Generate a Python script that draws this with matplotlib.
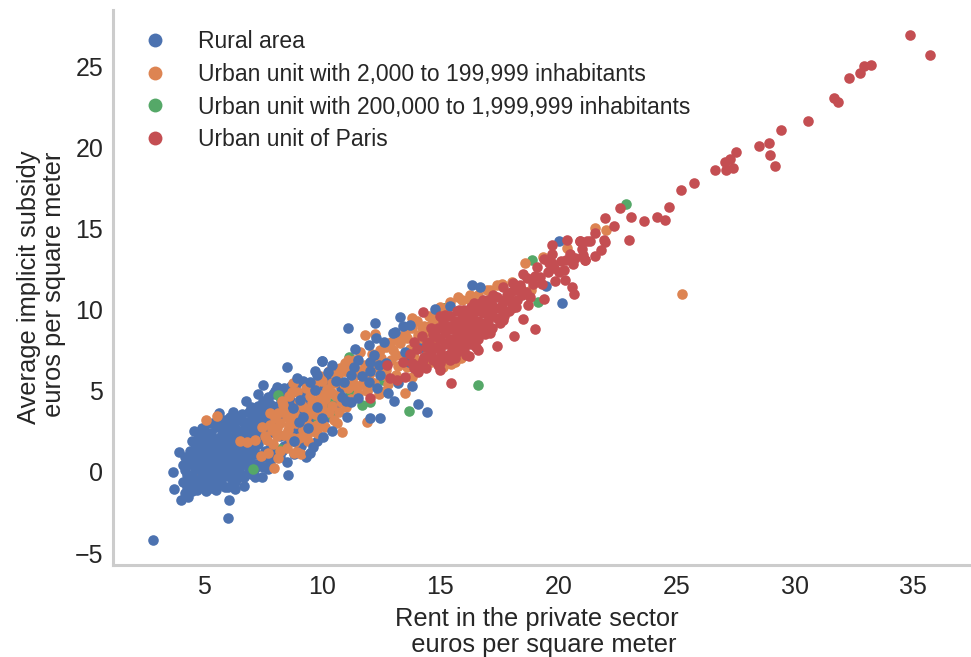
import matplotlib
matplotlib.use("Agg")
import matplotlib.pyplot as plt
from matplotlib.lines import Line2D

plt.rcParams['font.family'] = ['Liberation Sans', 'DejaVu Sans']

labels = ["Rural area",
          "Urban unit with 2,000 to 199,999 inhabitants",
          "Urban unit with 200,000 to 1,999,999 inhabitants",
          "Urban unit of Paris"]
colors = ["#4C72B0", "#DD8452", "#55A868", "#C44E52"]
x_ticks = [5, 10, 15, 20, 25, 30, 35]
y_ticks = [-5, 0, 5, 10, 15, 20, 25]

# orange points that sit under the blue cloud
urban_low_x = [5.25, 5.25, 4.8, 5.51, 7.16, 6.38, 7.58, 6.0, 6.7, 5.9]
urban_low_y = [2.02, 0.91, -0.19, 0.12, 3.41, -0.38, 0.86, 2.9, 2.6, 1.3]

rural_x = [3.67, 3.74, 4.01, 4.34, 3.94, 4.59, 5.65, 6.03, 6.06, 2.83,
           6.31, 6.71, 8.57, 7.44, 7.16, 6.21, 6.78, 7.3, 7.51, 8.08,
           4.1, 4.1, 4.2, 4.3, 4.3, 4.4, 4.4, 4.5, 4.5, 4.6,
           4.6, 4.7, 4.7, 4.8, 4.8, 4.9, 4.9, 5.0, 5.0, 5.0,
           5.1, 5.1, 5.2, 5.2, 5.3, 5.3, 5.3, 5.4, 5.4, 5.5,
           5.5, 5.5, 5.6, 5.6, 5.7, 5.7, 5.8, 5.8, 5.9, 5.9,
           6.0, 6.0, 6.1, 6.1, 6.2, 6.2, 6.3, 6.3, 6.4, 6.4,
           6.5, 6.5, 6.6, 6.6, 6.7, 6.8, 6.8, 6.9, 6.9, 7.0,
           7.0, 7.1, 7.2, 7.2, 7.3, 7.4, 7.5, 7.5, 7.6, 7.7,
           7.7, 7.8, 7.9, 8.0, 8.0, 8.1, 8.2, 8.3, 8.4, 8.51,
           8.5, 8.6, 8.7, 8.8, 8.9, 9.0, 9.1, 9.2, 9.3, 9.5,
           9.7, 10.01, 9.9, 10.2]
rural_y = [0.02, -1.07, -1.73, -1.52, 1.25, 2.55, 3.62, -2.86, -1.73, -4.2,
           -1.07, -0.86, -0.19, -0.29, -0.29, 3.72, 4.4, 4.8, 5.37, 5.27,
           -0.6, 0.4, 0.9, -0.9, -0.2, 0.5, 1.3, -1.2, 1.9, -0.5,
           0.2, 0.9, -1.1, 1.5, 2.2, -0.8, -0.1, 0.5, 1.1, 2.6,
           -1.2, 1.8, -0.5, 0.2, 0.9, -1.0, 2.4, 1.5, 3.0, -0.2,
           0.5, -1.1, 1.1, 2.0, -0.7, 2.7, 0.1, 0.8, 1.5, 3.2,
           -0.9, 2.2, -0.3, 0.5, 1.1, 2.8, -0.6, 1.8, 0.1, 3.4,
           0.8, 2.4, -0.2, 1.4, 3.0, 0.4, 2.0, 1.0, 3.7, -0.1,
           2.6, 1.5, 0.3, 3.3, 4.1, 2.1, 0.9, 3.6, 2.9, 0.2,
           4.6, 1.5, 3.3, 2.4, 5.0, 4.1, 0.9, 4.7, 1.6, 6.48,
           0.6, 3.7, 5.3, 1.1, 2.5, 4.9, 1.6, 5.6, 0.9, 5.1,
           6.2, 6.85, 5.3, 5.7]

rural_more_x = [4.2, 4.2, 4.3, 4.4, 4.5, 4.5, 4.6, 4.6, 4.7, 4.7,
                4.8, 4.8, 4.9, 4.9, 4.9, 5.0, 5.0, 5.1, 5.1, 5.1,
                5.1, 5.2, 5.2, 5.2, 5.2, 5.3, 5.3, 5.3, 5.4, 5.4,
                5.4, 5.5, 5.5, 5.5, 5.6, 5.6, 5.6, 5.7, 5.7, 5.7,
                5.8, 5.8, 5.8, 5.8, 5.9, 5.9, 5.9, 6.0, 6.0, 6.0,
                6.0, 6.1, 6.1, 6.1, 6.2, 6.2, 6.2, 6.3, 6.3, 6.3,
                6.4, 6.4, 6.4, 6.5, 6.5, 6.5, 6.6, 6.6, 6.6, 6.7,
                6.7, 6.7, 6.7, 6.8, 6.8, 6.9, 6.9, 6.9, 7.0, 7.0,
                7.0, 7.0, 7.1, 7.1, 7.1, 7.2, 7.2, 7.3, 7.3, 7.3,
                7.4, 7.4, 7.4, 7.5, 7.5, 7.6, 7.6, 7.7, 7.7, 7.8,
                7.8, 7.9, 7.9, 8.0, 8.0, 8.1, 8.2, 8.2, 8.3, 8.3,
                8.4, 8.5, 8.6, 8.7, 8.8, 8.9, 9.0, 9.0, 9.2, 9.3,
                9.4, 9.6, 9.8, 10.0, 10.2, 10.4, 10.6, 10.8, 11.0, 11.2]
rural_more_y = [-1.3, 0.1, 0.6, -0.6, -0.2, 0.9, 1.5, -1.0, 0.3, 2.0,
                -0.5, 0.6, 1.1, 1.9, 2.7, -1.0, -0.3, 0.2, 0.8, 1.4,
                2.3, -0.9, 1.1, 1.8, 3.0, -0.2, 0.4, 1.4, -0.7, 0.7,
                2.1, 1.0, 1.8, 2.8, -0.6, 0.2, 3.3, 0.5, 1.4, 2.2,
                -0.3, 1.2, 1.9, 2.9, -0.9, 0.4, 2.4, 0.1, 0.9, 1.7,
                2.8, 1.3, 2.0, 3.4, -0.8, 0.2, 1.7, 0.7, 2.3, 3.1,
                -0.4, 1.3, 2.6, 0.2, 1.6, 3.2, 0.7, 2.1, 3.6, -0.3,
                1.1, 1.8, 2.5, 0.9, 3.1, 0.1, 1.6, 2.4, 0.6, 1.2,
                3.2, 4.0, 0.1, 2.1, 2.9, 1.1, 3.8, 0.5, 1.7, 2.6,
                0.9, 3.1, 3.9, 0.3, 4.4, 1.3, 3.4, 2.4, 3.9, 0.6,
                4.2, 0.9, 4.8, 1.4, 3.9, 3.1, 2.2, 4.6, 1.3, 3.4,
                5.2, 4.2, 1.9, 4.4, 3.4, 5.4, 1.4, 3.9, 4.4, 2.4,
                4.9, 3.4, 1.9, 4.9, 3.4, 6.2, 4.2, 5.2, 6.4, 4.9]

mid_x = [22.85, 18.89, 19.11, 15.1, 16.58, 16.89, 13.67, 11.15, 10.4, 9.84,
         11.18, 11.67, 12.02, 10.33, 15.13, 12.59, 9.98, 8.14, 7.09, 8.22]
mid_y = [16.54, 13.09, 10.51, 10.1, 5.37, 9.01, 3.77, 7.12, 3.52, 3.21,
         5.02, 4.14, 4.34, 4.24, 10.1, 5.68, 4.03, 4.75, 0.17, 1.42]

urban_x = [5.08, 5.56, 7.97, 6.52, 6.81, 7.16, 7.44, 7.65, 7.86, 8.07,
           8.36, 8.14, 8.5, 8.71, 8.57, 8.78, 8.92, 8.14, 7.79, 8.71,
           8.92, 11.8, 12.22, 13.81, 11.91, 10.83, 13.5, 12.66, 13.22, 13.79,
           11.6, 12.45, 12.38, 12.93, 13.29, 13.58, 14.07, 14.42, 14.7, 14.2,
           10.97, 10.76, 10.68, 10.4, 10.4, 11.39, 11.46, 11.88, 9.91, 9.56,
           9.49, 9.2, 9.35, 8.92, 8.78, 8.78, 8.85, 10.61, 10.05, 9.77,
           25.22, 21.55, 22.0, 18.58, 20.37, 19.33, 17.41, 15.76, 16.25, 16.96,
           18.01, 18.82, 15.45, 15.87, 14.5, 14.9, 14.6, 15.0, 15.3, 9.3,
           9.6, 10.0, 10.2, 9.1, 9.9, 10.9, 11.1, 12.0, 12.7, 13.1]
urban_y = [3.21, 3.46, 0.27, 1.91, 1.87, 1.98, 2.8, 1.98, 2.59, 2.7,
           4.14, 3.62, 3.41, 3.0, 2.59, 2.08, 1.25, 0.85, 3.62, 4.96,
           4.96, 8.46, 8.5, 9.49, 3.1, 2.45, 4.86, 5.02, 6.56, 5.88,
           7.43, 7.53, 6.91, 8.04, 7.94, 8.25, 8.46, 8.66, 9.38, 8.97,
           6.71, 6.4, 5.99, 5.48, 4.86, 5.99, 5.27, 5.06, 4.75, 4.24,
           3.62, 2.9, 2.28, 3.1, 5.48, 3.2, 1.87, 3.0, 2.9, 2.39,
           11.0, 15.04, 14.9, 12.88, 13.83, 13.29, 11.54, 10.78, 10.93, 11.23,
           11.75, 11.23, 6.67, 7.02, 9.0, 9.7, 6.8, 6.9, 10.2, 3.9,
           5.2, 4.2, 5.0, 4.2, 5.9, 6.2, 6.9, 5.6, 6.3, 7.2]

urban_more_x = [7.4, 7.6, 7.7, 7.8, 7.9, 8.0, 8.1, 8.2, 8.2, 8.3,
                8.4, 8.4, 8.5, 8.6, 8.6, 8.7, 8.8, 8.8, 8.9, 9.0,
                9.0, 9.1, 9.1, 9.2, 9.2, 9.3, 9.3, 9.4, 9.4, 9.5,
                9.5, 9.6, 9.7, 9.7, 9.8, 9.8, 9.9, 10.0, 10.0, 10.1,
                10.1, 10.2, 10.3, 10.3, 10.4, 10.5, 10.5, 10.6, 10.6, 10.7,
                10.8, 10.9, 11.0, 11.0, 11.1, 11.2, 11.2, 11.3, 11.4, 11.5,
                11.6, 11.7, 11.8, 11.9, 12.0, 12.1, 12.2, 12.3, 12.4, 12.5,
                12.6, 12.7, 12.8, 12.9, 13.0, 13.1, 13.2, 13.4, 13.5, 13.6,
                13.7, 13.8, 13.9, 14.0, 14.1, 14.2, 14.3, 14.4, 14.5, 14.7,
                14.8, 15.0, 15.1, 15.4, 15.6, 15.9, 16.2, 16.6, 17.1, 17.6]
urban_more_y = [1.0, 2.2, 1.2, 2.9, 1.7, 3.3, 2.2, 1.3, 3.0, 4.4,
                2.3, 3.7, 1.5, 2.9, 4.7, 2.0, 3.7, 1.2, 3.0, 2.1,
                4.3, 3.3, 1.1, 2.6, 4.0, 3.3, 5.2, 1.9, 2.9, 3.9,
                4.7, 2.5, 3.6, 5.4, 2.9, 4.4, 3.4, 3.9, 5.6, 2.8,
                4.5, 5.1, 3.7, 6.2, 4.1, 5.5, 3.2, 4.7, 6.0, 3.7,
                4.3, 5.4, 4.0, 6.2, 5.2, 4.5, 6.5, 5.5, 6.9, 4.8,
                6.2, 5.4, 6.6, 5.0, 6.1, 7.3, 5.5, 6.5, 4.8, 7.0,
                6.0, 7.7, 5.4, 6.9, 7.5, 6.0, 8.3, 7.1, 8.6, 6.5,
                7.6, 8.9, 7.1, 9.3, 8.0, 6.6, 9.0, 7.6, 9.6, 8.0,
                9.0, 10.2, 6.5, 10.5, 6.8, 10.6, 10.7, 10.9, 11.2, 11.6]

# blue points drawn on top of the orange ones
rural_top_x = [20.0, 16.35, 16.68, 19.45, 20.13, 14.78, 15.41, 11.09, 12.25, 10.01,
               14.09, 13.65, 13.04, 14.04, 14.43, 12.45, 12.02, 13.3, 13.08, 13.71,
               11.98, 12.28, 11.35, 11.53, 12.02, 10.94, 10.26, 10.4, 9.77, 9.49,
               9.7, 9.06, 8.78, 11.04, 10.4, 10.05, 9.62, 9.49, 9.2, 11.53,
               11.22, 10.83, 13.81, 12.33, 11.96, 12.45, 8.92,
               11.4, 12.0, 12.4, 12.6, 12.7, 13.0, 13.4, 12.8, 13.2, 10.6,
               11.0, 10.0, 9.4, 9.0, 8.8, 9.8, 11.7, 11.2, 12.2, 13.5]
rural_top_y = [14.22, 11.54, 11.44, 11.5, 10.43, 10.04, 10.25, 8.91, 9.22, 6.85,
               7.64, 6.81, 4.38, 4.22, 3.72, 3.31, 3.31, 9.59, 8.62, 9.07,
               7.84, 8.25, 6.46, 6.91, 6.81, 5.57, 6.19, 6.6, 5.99, 5.57,
               5.06, 4.44, 3.93, 3.38, 2.55, 2.14, 1.56, 1.15, 3.41, 4.55,
               4.34, 4.65, 5.31, 5.17, 5.57, 5.99, 5.78,
               7.6, 6.2, 6.6, 8.0, 6.7, 8.6, 9.0, 4.9, 5.5, 5.6,
               4.4, 3.3, 2.7, 3.1, 1.9, 4.0, 5.9, 6.0, 7.2, 7.4]

paris_x = [34.85, 35.7, 33.23, 32.9, 32.76, 32.3, 31.66, 31.8, 30.55, 29.4,
           28.9, 28.47, 28.92, 29.15, 27.49, 27.26, 27.02, 27.37, 27.08, 26.61,
           25.74, 25.16, 24.65, 24.18, 24.5, 23.63, 23.06, 22.6, 21.94, 22.34,
           21.55, 22.98, 21.91, 21.97, 21.33, 21.79, 21.55, 21.12, 20.91, 21.05,
           20.36, 19.74, 20.91, 21.2, 20.98, 21.12, 20.49, 20.6, 20.09, 19.71,
           19.36, 19.71, 20.24, 20.0, 19.57, 19.08, 19.0, 18.66, 20.28, 19.85,
           20.56, 20.63, 18.37, 18.09, 17.64, 17.24, 18.44, 18.72, 19.39, 18.23,
           17.88, 18.02, 17.59, 17.17, 16.82, 16.46, 17.64, 18.49, 19.02, 18.13,
           17.4, 16.21, 14.99, 15.45, 12.02, 14.28, 12.87, 13.15, 13.51, 14.07,
           13.79, 14.28, 14.56, 14.99, 14.42, 14.84, 15.13, 12.73, 13.43, 15.2,
           15.33, 14.3, 14.5, 14.6, 14.7, 14.8, 14.9, 15.0, 15.0, 15.1,
           15.2, 15.2, 15.3, 15.3, 15.4, 15.4, 15.5, 15.5, 15.6, 15.6,
           15.7, 15.7, 15.7, 15.8, 15.8, 15.9, 15.9, 16.0, 16.0, 16.0,
           16.1, 16.1, 16.2, 16.2, 16.3, 16.3, 16.3, 16.4, 16.4, 16.5,
           16.5, 16.5, 16.6, 16.6, 16.7, 16.7, 16.8, 16.8, 16.9, 16.9,
           17.0, 17.0, 17.1, 17.2, 17.2, 17.4, 17.4, 17.6, 17.8, 18.0,
           18.2,
           13.7, 13.9, 14.0, 14.1, 14.4, 14.6, 14.7, 14.9, 15.0, 15.1,
           15.4, 15.6, 15.8, 16.1, 16.4, 16.6, 16.9, 17.1, 17.3, 17.5,
           17.7, 17.7, 17.9, 18.0, 18.2, 18.4, 18.6, 18.8, 18.9, 19.2,
           19.3, 19.6, 19.8, 20.3, 20.7, 18.5, 13.9, 14.2, 14.4, 15.0]
paris_y = [26.93, 25.74, 25.12, 25.02, 24.6, 24.32, 23.07, 22.8, 21.67, 21.09,
           20.31, 20.14, 19.53, 18.89, 19.71, 19.3, 19.12, 18.75, 18.64, 18.6,
           17.84, 17.41, 16.36, 15.74, 15.53, 15.51, 15.76, 16.31, 15.68, 15.19,
           14.73, 14.34, 14.32, 14.18, 14.26, 13.7, 13.35, 13.09, 14.22, 13.4,
           14.32, 14.01, 14.26, 14.22, 13.75, 13.09, 13.44, 12.86, 13.04, 13.44,
           13.13, 12.88, 12.47, 12.36, 12.36, 12.67, 12.06, 11.96, 11.85, 11.79,
           11.44, 10.99, 11.54, 11.65, 11.4, 10.93, 10.93, 10.31, 10.7, 10.62,
           10.72, 10.1, 10.31, 9.9, 10.62, 10.2, 9.38, 9.46, 8.85, 8.41,
           7.78, 7.16, 6.3, 5.47, 4.59, 9.86, 5.78, 5.68, 5.88, 6.19,
           6.71, 6.91, 7.53, 7.12, 7.94, 8.35, 8.97, 6.6, 6.81, 9.69,
           7.96, 7.1, 8.0, 7.3, 8.5, 7.7, 8.9, 7.5, 8.2, 9.3,
           7.9, 8.6, 7.2, 9.0, 8.2, 9.6, 7.6, 8.8, 8.0, 9.3,
           7.4, 8.5, 9.9, 7.8, 9.0, 8.3, 9.5, 7.6, 8.7, 10.0,
           8.1, 9.2, 8.5, 9.7, 7.9, 9.0, 10.2, 8.4, 9.4, 7.7,
           8.8, 9.9, 8.2, 9.3, 8.7, 10.4, 9.0, 9.8, 8.5, 10.2,
           9.3, 10.6, 9.7, 8.9, 10.3, 9.5, 10.8, 10.0, 10.9, 10.5,
           11.2,
           7.3, 6.4, 7.6, 6.6, 6.4, 8.9, 6.9, 6.6, 9.6, 7.0,
           6.9, 7.0, 10.0, 7.2, 10.4, 7.5, 9.2, 8.6, 10.1, 9.2,
           9.6, 10.6, 9.9, 11.1, 10.2, 11.3, 11.1, 10.8, 11.6, 12.0,
           11.6, 12.9, 12.6, 13.1, 13.2, 12.2, 8.0, 8.4, 7.7, 6.7]

fig = plt.figure(figsize=(9.71, 6.57), dpi=100)
ax = fig.add_axes([113 / 971, 1 - 565 / 657, (970 - 113) / 971, (565 - 10) / 657])

size = 58
ax.scatter(urban_low_x, urban_low_y, s=size, color=colors[1], linewidths=0)
ax.scatter(rural_x, rural_y, s=size, color=colors[0], linewidths=0)
ax.scatter(rural_more_x, rural_more_y, s=size, color=colors[0], linewidths=0)
ax.scatter(mid_x, mid_y, s=size, color=colors[2], linewidths=0)
ax.scatter(urban_x, urban_y, s=size, color=colors[1], linewidths=0)
ax.scatter(urban_more_x, urban_more_y, s=size, color=colors[1], linewidths=0)
ax.scatter(rural_top_x, rural_top_y, s=size, color=colors[0], linewidths=0)
ax.scatter(paris_x, paris_y, s=size, color=colors[3], linewidths=0)

ax.set_xlim(1.15, 37.4)
ax.set_ylim(-5.74, 28.5)
ax.set_xticks(x_ticks)
ax.set_yticks(y_ticks)
ax.tick_params(length=0, labelsize=18, labelcolor=".15", pad=7)
for side in ["top", "right"]:
    ax.spines[side].set_visible(False)
for side in ["left", "bottom"]:
    ax.spines[side].set_color(".8")
    ax.spines[side].set_linewidth(2.2)

ax.set_xlabel("Rent in the private sector\n  euros per square meter",
              fontsize=18.4, color=".15", labelpad=6, linespacing=1.1, x=0.4945)
ax.set_ylabel("Average implicit subsidy\n euros per square meter",
              fontsize=18.4, color=".15", labelpad=6, linespacing=1.1)

handles = [Line2D([], [], linestyle="", marker="o", markersize=10,
                  markeredgewidth=0, color=c) for c in colors]
ax.legend(handles, labels, frameon=False, fontsize=16.5, labelcolor=".15",
          loc="upper left", bbox_to_anchor=(0.012, 0.98), borderaxespad=0,
          handletextpad=0.85, labelspacing=0.42)

fig.savefig("out.png", dpi=100)
